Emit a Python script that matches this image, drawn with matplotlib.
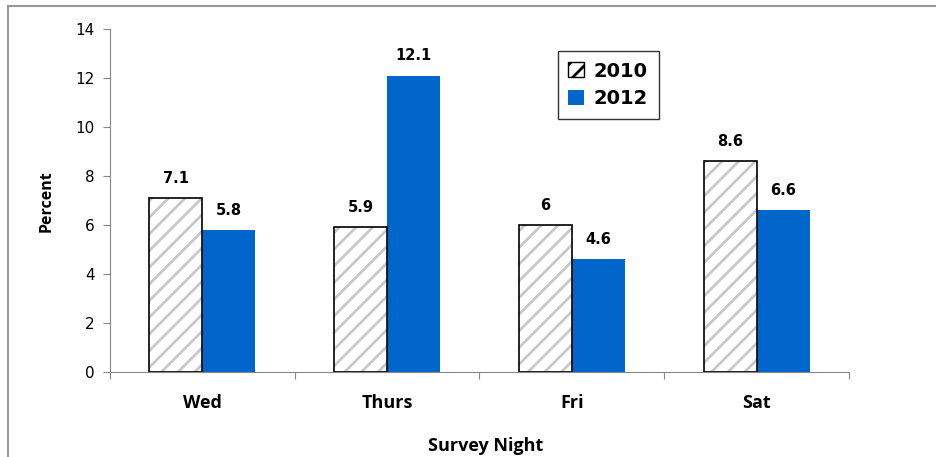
import numpy as np
import matplotlib.pyplot as plt
from matplotlib.patches import Patch

nights = ['Wed', 'Thurs', 'Fri', 'Sat']
pct_2010 = [7.1, 5.9, 6, 8.6]
pct_2012 = [5.8, 12.1, 4.6, 6.6]

blue = '#0066CC'
plt.rcParams['hatch.linewidth'] = 2.0

fig = plt.figure(figsize=(9.36, 4.57), dpi=100)
ax = fig.add_axes([0.1175, 0.186, 0.7895, 0.7505])

x = np.arange(len(nights))
w = 0.287

# 2010: grey stripes, then a black outline on top
ax.bar(x - w / 2, pct_2010, w, color='white', hatch='//', edgecolor='#C8C8C8', linewidth=0, zorder=2)
ax.bar(x - w / 2, pct_2010, w, fill=False, edgecolor='black', linewidth=1.2, zorder=3)
ax.bar(x + w / 2, pct_2012, w, color=blue, edgecolor='none', zorder=2)

for xi, v in zip(x, pct_2010):
    ax.text(xi - w / 2, v + 0.5, f'{v:g}', ha='center', va='bottom', fontsize=10.5, fontweight='bold', family='DejaVu Sans')
for xi, v in zip(x, pct_2012):
    ax.text(xi + w / 2, v + 0.5, f'{v:g}', ha='center', va='bottom', fontsize=10.5, fontweight='bold', family='DejaVu Sans')

ax.set_xlim(-0.5, len(nights) - 0.5)
ax.set_ylim(0, 14)
ax.set_yticks(range(0, 15, 2))
ax.tick_params(axis='y', direction='out', length=5, color='#888888', labelsize=11, pad=6)
for lab in ax.get_yticklabels():
    lab.set_family('DejaVu Sans')

# category labels between boundary ticks
ax.set_xticks(np.arange(-0.5, len(nights), 1))
ax.set_xticklabels([])
ax.tick_params(axis='x', direction='out', length=5, color='#888888')
for xi, name in zip(x, nights):
    ax.text(xi, -0.9, name, ha='center', va='top', fontsize=13, fontweight='bold', family='Open Sans')

for side in ['top', 'right']:
    ax.spines[side].set_visible(False)
for side in ['left', 'bottom']:
    ax.spines[side].set_color('#888888')

fig.text(47 / 936, 1 - 201 / 457, 'Percent', rotation=90, ha='center', va='center',
         fontsize=11.5, fontweight='bold', family='Open Sans')
fig.text(486 / 936, 1 - 446 / 457, 'Survey Night', ha='center', va='center',
         fontsize=13, fontweight='bold', family='Open Sans')

handles = [Patch(facecolor='white', edgecolor='black', hatch='//'), Patch(facecolor=blue, edgecolor='none')]
leg = ax.legend(handles, ['2010', '2012'], loc='upper left', bbox_to_anchor=(0.606, 0.936),
                frameon=True, fancybox=False, edgecolor='black', handlelength=0.8, handleheight=0.8,
                handletextpad=0.5, borderpad=0.55, labelspacing=0.45, borderaxespad=0,
                prop={'family': 'DejaVu Sans', 'weight': 'bold', 'size': 14})
leg.get_frame().set_linewidth(1.0)

# outer chart border (top and left visible)
fig.add_artist(plt.Line2D([8 / 936, 1], [1 - 6 / 457] * 2, color='#999999', linewidth=1.5))
fig.add_artist(plt.Line2D([8 / 936] * 2, [0, 1 - 6 / 457], color='#999999', linewidth=1.5))

fig.savefig('out.png', dpi=100)
